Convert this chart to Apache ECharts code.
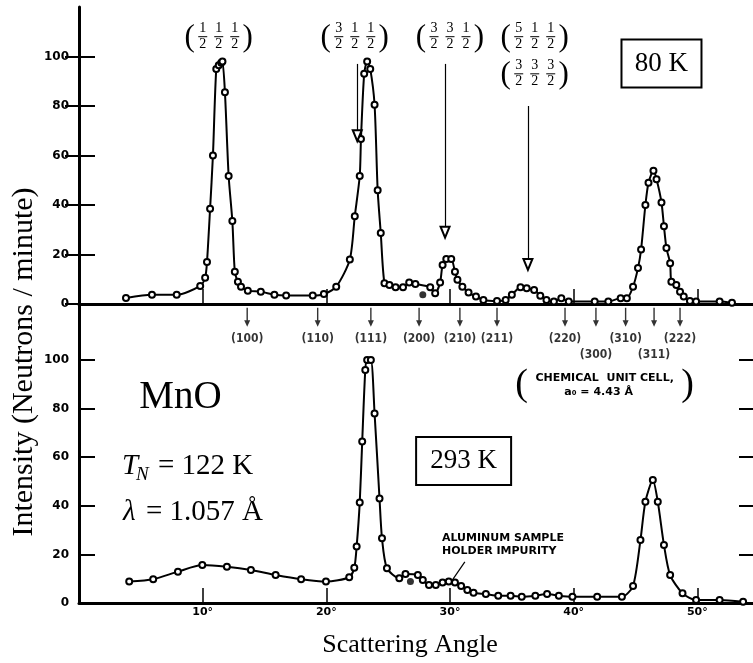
<!DOCTYPE html>
<html>
<head>
<meta charset="utf-8">
<script src="https://cdn.jsdelivr.net/npm/echarts@6/dist/echarts.min.js"></script>
<style>
  html, body { margin: 0; padding: 0; background: #fff; }
  #chart { width: 753px; height: 663px; }
</style>
</head>
<body>
<div id="chart"></div>
<script>
// 80 K scan (upper panel)
const angle80 = [3.8, 5.9, 7.9, 9.8, 10.2, 10.35, 10.6, 10.83, 11.1, 11.3, 11.5, 11.6, 11.8, 12.1, 12.4, 12.6, 12.85, 13.1,
  13.65, 14.7, 15.8, 16.75, 18.9, 19.8, 20.8, 21.9, 22.3, 22.7, 22.8, 23.06, 23.3, 23.55, 23.9, 24.15, 24.4, 24.7, 25.1,
  25.6, 26.2, 26.7, 27.2, 28.4, 28.8, 29.2, 29.4, 29.7, 30.1, 30.4, 30.6, 31.0, 31.5, 32.1, 32.7, 33.8, 34.5, 35.0, 35.7,
  36.2, 36.8, 37.3, 37.8, 38.4, 39.0, 39.6, 41.7, 42.8, 43.8, 44.3, 44.8, 45.2, 45.45, 45.8, 46.05, 46.45, 46.7, 47.1,
  47.3, 47.5, 47.8, 47.9, 48.3, 48.6, 48.9, 49.4, 49.9, 51.8, 52.8];
const counts80 = [2.4, 3.7, 3.7, 7.3, 10.6, 17, 38.5, 60, 95, 96.5, 97.5, 98, 85.6, 51.7, 33.5, 13, 9, 7,
  5.4, 5, 3.7, 3.4, 3.4, 4, 7, 18, 35.5, 51.7, 66.7, 93, 98, 95, 80.5, 46, 28.7, 8.4, 7.7,
  6.8, 6.8, 8.7, 8.1, 6.8, 4.3, 8.7, 15.8, 18.2, 18.2, 13, 9.8, 7, 4.6, 3, 1.6, 1.2, 1.6, 3.7, 6.8,
  6.4, 5.7, 3.3, 1.6, 1, 2.3, 1, 1, 1, 2.3, 2.3, 7, 14.5, 22, 40, 49, 53.8, 50.4, 41,
  31.4, 22.6, 16.5, 9, 7.7, 5, 3, 1.2, 1, 1, 0.5];
const strayAngle80 = [27.8];
const strayCounts80 = [3.7];

// 293 K scan (lower panel)
const angle293 = [4.06, 6.0, 8.0, 9.97, 11.96, 13.9, 15.9, 17.96, 19.97, 21.85, 22.26, 22.45, 22.7, 22.9, 23.15, 23.3,
  23.6, 23.9, 24.3, 24.5, 24.9, 25.9, 26.4, 27.4, 27.8, 28.3, 28.85, 29.4, 29.9, 30.4, 30.9, 31.4, 31.9, 32.9, 33.9,
  34.9, 35.8, 36.9, 37.85, 38.8, 39.9, 41.9, 43.9, 44.8, 45.4, 45.8, 46.4, 46.8, 47.3, 47.8, 48.8, 49.9, 51.8, 53.7];
const counts293 = [8.8, 9.8, 12.9, 15.6, 14.9, 13.6, 11.5, 9.75, 8.8, 10.6, 14.5, 23.2, 41.3, 66.4, 95.9, 100,
  100, 78, 43, 26.6, 14.3, 10.2, 11.9, 11.5, 9.5, 7.4, 7.4, 8.4, 8.8, 8.4, 7, 5.3, 4.2, 3.7, 3,
  3, 2.6, 3, 3.7, 3, 2.6, 2.6, 2.6, 7, 25.9, 41.7, 50.6, 41.7, 23.9, 11.5, 4, 1.2, 1.2, 0.5];
const strayAngle293 = [26.8];
const strayCounts293 = [8.8];

// axes
const xTicks = [10, 20, 30, 40, 50];
const yTicks = [0, 20, 40, 60, 80, 100];

// chemical unit cell reflections
const millerNames = ['(100)', '(110)', '(111)', '(200)', '(210)', '(211)', '(220)', '(300)', '(310)', '(311)', '(222)'];
const millerAngles = [13.6, 19.3, 23.6, 27.5, 30.8, 33.8, 39.3, 41.8, 44.2, 46.5, 48.6];
const millerRow = [0, 0, 0, 0, 0, 0, 0, 1, 0, 1, 0];

// magnetic reflections (numerators over 2)
const magNums = [[1, 1, 1], [3, 1, 1], [3, 3, 1], [5, 1, 1], [3, 3, 3]];
const magAngles = [11.3, 22.3, 30.0, 36.85, 36.85];
const magLevels = [108, 108, 108, 108, 93];
// arrows to the weak magnetic peaks: [angle, from, to]
const magArrows = [[22.5, 97, 68], [29.6, 97, 29], [36.3, 80, 16]];

const zip = (xs, ys) => xs.map((x, i) => [x, ys[i]]);

const serif = '"Liberation Serif", "Times New Roman", serif';
const sans = '"DejaVu Sans", sans-serif';
const narrow = '"Liberation Sans Narrow", "DejaVu Sans Condensed", sans-serif';

const chart = echarts.init(document.getElementById('chart'));

const yLeft = (grid, max) => ({
  gridIndex: grid, type: 'value', min: 0, max: max, position: 'left',
  axisLine: { show: true, lineStyle: { color: '#000', width: 3 } },
  axisTick: { show: true, inside: true, length: 16, customValues: yTicks, lineStyle: { color: '#000', width: 2 } },
  axisLabel: { show: true, customValues: yTicks, margin: 10, color: '#000', fontFamily: sans, fontWeight: 'bold', fontSize: 12 },
  splitLine: { show: false }
});
const yRight = (grid, max) => ({
  gridIndex: grid, type: 'value', min: 0, max: max, position: 'right',
  axisLine: { show: false },
  axisTick: { show: true, inside: true, length: 14, customValues: yTicks, lineStyle: { color: '#000', width: 2 } },
  axisLabel: { show: false },
  splitLine: { show: false }
});

chart.setOption({
  animation: false,
  grid: [
    { left: 79, top: 7, width: 676, height: 297 },
    { left: 79, top: 304, width: 676, height: 299 }
  ],
  xAxis: [
    {
      gridIndex: 0, type: 'value', min: 0, max: 54.5, position: 'bottom',
      axisLine: { lineStyle: { color: '#000', width: 3 } },
      axisTick: { inside: true, length: 15, customValues: xTicks, lineStyle: { color: '#000', width: 1.5 } },
      axisLabel: { show: false }, splitLine: { show: false }
    },
    {
      gridIndex: 0, type: 'value', min: 0, max: 54.5, position: 'top',
      axisLine: { lineStyle: { color: '#000', width: 2.5 } },
      axisTick: { show: false }, axisLabel: { show: false }, splitLine: { show: false }
    },
    {
      gridIndex: 1, type: 'value', min: 0, max: 54.5, position: 'bottom',
      axisLine: { lineStyle: { color: '#000', width: 3 } },
      axisTick: { inside: true, length: 15, customValues: xTicks, lineStyle: { color: '#000', width: 1.5 } },
      axisLabel: { customValues: xTicks, margin: 4, color: '#000', fontFamily: sans, fontWeight: 'bold', fontSize: 11, formatter: '{value}°' },
      splitLine: { show: false }
    }
  ],
  yAxis: [yLeft(0, 120), yRight(0, 120), yLeft(1, 123), yRight(1, 123)],
  series: [
    {
      type: 'line', xAxisIndex: 0, yAxisIndex: 0, data: zip(angle80, counts80),
      smooth: 0.25, symbol: 'emptyCircle', symbolSize: 6,
      lineStyle: { color: '#000', width: 2 }, itemStyle: { color: '#000', borderWidth: 1.5 },
      markLine: {
        silent: true, symbol: ['none', 'emptyTriangle'], symbolSize: [9, 11],
        label: { show: false }, lineStyle: { color: '#000', width: 1.2, type: 'solid' },
        data: magArrows.map(a => [{ coord: [a[0], a[1]] }, { coord: [a[0], a[2]] }])
      }
    },
    {
      type: 'scatter', xAxisIndex: 0, yAxisIndex: 0, data: zip(strayAngle80, strayCounts80),
      symbol: 'circle', symbolSize: 7, itemStyle: { color: '#000' }
    },
    {
      type: 'line', xAxisIndex: 2, yAxisIndex: 2, data: zip(angle293, counts293),
      smooth: 0.25, symbol: 'emptyCircle', symbolSize: 6,
      lineStyle: { color: '#000', width: 2 }, itemStyle: { color: '#000', borderWidth: 1.8 }
    },
    {
      type: 'scatter', xAxisIndex: 2, yAxisIndex: 2, data: zip(strayAngle293, strayCounts293),
      symbol: 'circle', symbolSize: 7, itemStyle: { color: '#000' }
    },
    {
      type: 'scatter', xAxisIndex: 2, yAxisIndex: 2, silent: true,
      symbol: 'path://M-0.7,0 L0.7,0 L0.7,13 L3,13 L0,20 L-3,13 L-0.7,13 Z',
      symbolSize: [6, 19], itemStyle: { color: '#000' },
      label: { show: true, position: 'bottom', color: '#000', fontFamily: narrow, fontWeight: 'bold', fontSize: 12 },
      data: millerAngles.map((a, i) => ({
        value: [a, 117.5],
        label: { distance: millerRow[i] ? 22 : 6, formatter: millerNames[i] }
      }))
    }
  ]
});

// annotations placed through the grids' own coordinate systems
const px = (grid, x, y) => chart.convertToPixel({ gridIndex: grid }, [x, y]);

function fracLabel(nums, x, y) {
  const p = px(0, x, y);
  const kids = [];
  const step = 16;
  nums.forEach((n, i) => {
    const fx = p[0] + (i - 1) * step;
    kids.push({ type: 'text', x: fx, y: p[1] - 1, style: { text: String(n), font: '14px ' + serif, fill: '#000', align: 'center', verticalAlign: 'bottom' } });
    kids.push({ type: 'line', shape: { x1: fx - 4.5, y1: p[1], x2: fx + 4.5, y2: p[1] }, style: { stroke: '#000', lineWidth: 1 } });
    kids.push({ type: 'text', x: fx, y: p[1] + 1, style: { text: '2', font: '14px ' + serif, fill: '#000', align: 'center', verticalAlign: 'top' } });
  });
  kids.push({ type: 'text', x: p[0] - 29, y: p[1] + 1, style: { text: '(', font: '31px ' + serif, fill: '#000', align: 'center', verticalAlign: 'middle' } });
  kids.push({ type: 'text', x: p[0] + 29, y: p[1] + 1, style: { text: ')', font: '31px ' + serif, fill: '#000', align: 'center', verticalAlign: 'middle' } });
  return { type: 'group', children: kids };
}

function boxLabel(grid, x, y, w, h, txt) {
  const p = px(grid, x, y);
  return {
    type: 'group', children: [
      { type: 'rect', shape: { x: p[0] - w / 2, y: p[1] - h / 2, width: w, height: h }, style: { fill: '#fff', stroke: '#000', lineWidth: 2 } },
      { type: 'text', x: p[0], y: p[1], style: { text: txt, font: '27px ' + serif, fill: '#000', align: 'center', verticalAlign: 'middle' } }
    ]
  };
}

const g = [];
magNums.forEach((nums, i) => g.push(fracLabel(nums, magAngles[i], magLevels[i])));
g.push(boxLabel(0, 47.1, 97.2, 80, 48, '80 K'));
g.push(boxLabel(1, 31.1, 58.4, 95, 48, '293 K'));

const mno = px(1, 8.2, 84.4);
g.push({ type: 'text', x: mno[0], y: mno[1], style: { text: 'MnO', font: '39px ' + serif, fill: '#000', align: 'center', verticalAlign: 'middle' } });

const tn = px(1, 3.47, 56.4);
g.push({ type: 'text', x: tn[0], y: tn[1], style: { text: 'T', font: 'italic 29px ' + serif, fill: '#000', align: 'left', verticalAlign: 'middle' } });
g.push({ type: 'text', x: tn[0] + 14, y: tn[1] + 9, style: { text: 'N', font: 'italic 19px ' + serif, fill: '#000', align: 'left', verticalAlign: 'middle' } });
g.push({ type: 'text', x: tn[0] + 36, y: tn[1], style: { text: '= 122 K', font: '29px ' + serif, fill: '#000', align: 'left', verticalAlign: 'middle' } });

const lam = px(1, 3.55, 37.4);
g.push({ type: 'text', x: lam[0], y: lam[1], style: { text: 'λ', font: 'italic 29px ' + serif, fill: '#000', align: 'left', verticalAlign: 'middle' } });
g.push({ type: 'text', x: lam[0] + 23, y: lam[1], style: { text: '= 1.057 Å', font: '29px ' + serif, fill: '#000', align: 'left', verticalAlign: 'middle' } });

// chemical unit cell note
const cc = px(1, 42.5, 89.7);
g.push({ type: 'text', x: cc[0] - 83, y: cc[1], style: { text: '(', font: '38px ' + serif, fill: '#000', align: 'center', verticalAlign: 'middle' } });
g.push({ type: 'text', x: cc[0] + 83, y: cc[1], style: { text: ')', font: '38px ' + serif, fill: '#000', align: 'center', verticalAlign: 'middle' } });
g.push({ type: 'text', x: cc[0], y: cc[1] - 7, style: { text: 'CHEMICAL  UNIT CELL,', font: 'bold 11px ' + sans, fill: '#000', align: 'center', verticalAlign: 'middle' } });
g.push({ type: 'text', x: cc[0] - 6, y: cc[1] + 7, style: { text: 'a₀ = 4.43 Å', font: 'bold 11px ' + sans, fill: '#000', align: 'center', verticalAlign: 'middle' } });

// aluminium impurity note with leader
const al = px(1, 29.35, 23.9);
g.push({ type: 'text', x: al[0], y: al[1], style: { text: 'ALUMINUM SAMPLE\nHOLDER IMPURITY', font: 'bold 11px ' + sans, lineHeight: 13, fill: '#000', align: 'left', verticalAlign: 'middle' } });
const l1 = px(1, 31.2, 16.9), l2 = px(1, 30.2, 9.5);
g.push({ type: 'line', shape: { x1: l1[0], y1: l1[1], x2: l2[0], y2: l2[1] }, style: { stroke: '#000', lineWidth: 1.2 } });

// axis titles
g.push({ type: 'text', x: 24, y: 362, rotation: Math.PI / 2, style: { text: 'Intensity (Neutrons / minute)', font: '30px ' + serif, fill: '#000', align: 'center', verticalAlign: 'middle' } });
g.push({ type: 'text', x: 410, y: 645, style: { text: 'Scattering Angle', font: '26px ' + serif, fill: '#000', align: 'center', verticalAlign: 'middle' } });

chart.setOption({ graphic: g });
</script>
</body>
</html>
